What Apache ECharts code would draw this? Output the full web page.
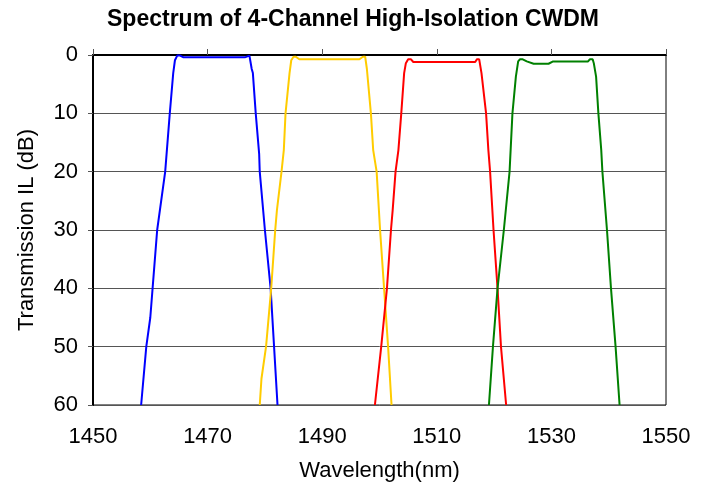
<!DOCTYPE html>
<html>
<head>
<meta charset="utf-8">
<script src="https://cdn.jsdelivr.net/npm/echarts@6/dist/echarts.min.js"></script>
<style>
  html, body { margin: 0; padding: 0; background: #fff; }
  #chart { width: 706px; height: 489px; }
</style>
</head>
<body>
<div id="chart"></div>
<script>
// [wavelength nm, transmission IL dB]
const ch1 = [[1458.4, 60], [1459.3, 50], [1460.0, 45], [1460.4, 40], [1461.2, 30], [1462.6, 20], [1463.4, 10], [1464.0, 3.1], [1464.3, 0.9], [1464.7, 0.1], [1465.2, 0.1], [1465.8, 0.4], [1476.5, 0.4], [1476.8, 0.1], [1477.3, 0.1], [1477.7, 2.4], [1477.9, 3.1], [1478.4, 10], [1479.0, 17], [1479.1, 20], [1480.0, 30], [1481.0, 40], [1481.6, 50], [1482.2, 60]];
const ch2 = [[1479.1, 60], [1479.4, 55.5], [1480.2, 50], [1481.1, 40], [1481.8, 30], [1482.1, 26.6], [1482.9, 20], [1483.3, 16.3], [1483.6, 10], [1484.3, 3.1], [1484.6, 0.9], [1485.0, 0.3], [1485.4, 0.3], [1486.0, 0.74], [1496.5, 0.74], [1497.1, 0.3], [1497.5, 0.3], [1497.8, 2.4], [1498.5, 10], [1498.9, 16.3], [1499.5, 20], [1500.1, 30], [1500.8, 40], [1501.5, 50], [1502.1, 60]];
const ch3 = [[1499.2, 60], [1500.3, 50], [1501.3, 40], [1502.0, 30], [1502.3, 26.6], [1502.8, 20], [1503.3, 16.3], [1503.8, 10], [1504.3, 3.1], [1504.6, 1.4], [1505.0, 0.74], [1505.5, 0.74], [1505.9, 1.2], [1516.7, 1.2], [1517.0, 0.74], [1517.4, 0.74], [1517.8, 3.1], [1518.6, 10], [1519.0, 16.3], [1519.3, 20], [1519.9, 30], [1520.6, 40], [1521.2, 50], [1522.1, 60]];
const ch4 = [[1519.1, 60], [1519.8, 50], [1520.6, 40], [1521.7, 30], [1522.7, 20], [1523.2, 10], [1523.8, 3.7], [1524.2, 1.1], [1524.5, 0.74], [1525.0, 0.74], [1525.7, 1.1], [1526.9, 1.5], [1529.5, 1.5], [1530.3, 1.1], [1536.4, 1.1], [1536.7, 0.74], [1537.2, 0.74], [1537.4, 1.4], [1537.8, 3.7], [1538.2, 10], [1538.7, 16.3], [1538.9, 20], [1539.7, 30], [1540.4, 40], [1541.2, 50], [1541.9, 60]];

const channels = [ch1, ch2, ch3, ch4];
const colors = ["#0000ff", "#ffcc00", "#ff0000", "#008000"];

const chart = echarts.init(document.getElementById("chart"), null, { renderer: "canvas" });
const font = "Arial, 'Liberation Sans', sans-serif";

chart.setOption({
  animation: false,
  backgroundColor: "#fff",
  title: {
    text: "Spectrum of 4-Channel High-Isolation CWDM",
    left: 348,
    textAlign: "center",
    top: 3,
    textStyle: { fontFamily: font, fontSize: 23, fontWeight: "bold", color: "#000" },
  },
  grid: {
    left: 93, right: 40, top: 55, bottom: 84,
    show: true, borderColor: "#000", borderWidth: 1,
  },
  xAxis: {
    type: "value",
    min: 1450, max: 1550, interval: 20,
    name: "Wavelength(nm)",
    nameLocation: "middle",
    nameGap: 55,
    nameTextStyle: { fontFamily: font, fontSize: 22, color: "#000" },
    axisLine: { show: true, lineStyle: { color: "#000", width: 2 } },
    axisTick: { show: true, inside: true, length: 6, lineStyle: { color: "#555" } },
    axisLabel: { fontFamily: font, fontSize: 22, color: "#000", margin: 21, formatter: (v) => String(v) },
    splitLine: { show: false },
  },
  yAxis: {
    type: "value",
    inverse: true,
    min: 0, max: 60, interval: 10,
    name: "Transmission IL (dB)",
    nameLocation: "middle",
    nameGap: 55,
    nameTextStyle: { fontFamily: font, fontSize: 22, color: "#000" },
    axisLine: { show: true, lineStyle: { color: "#000", width: 2 } },
    axisTick: { show: true, inside: false, length: 5, lineStyle: { color: "#555" } },
    axisLabel: { fontFamily: font, fontSize: 22, color: "#000", margin: 15 },
    splitLine: { show: true, lineStyle: { color: "#555", width: 1 } },
  },
  series: channels.map((d, i) => ({
    type: "line",
    data: d,
    showSymbol: false,
    smooth: false,
    lineStyle: { color: colors[i], width: 2 },
  })),
});
</script>
</body>
</html>
